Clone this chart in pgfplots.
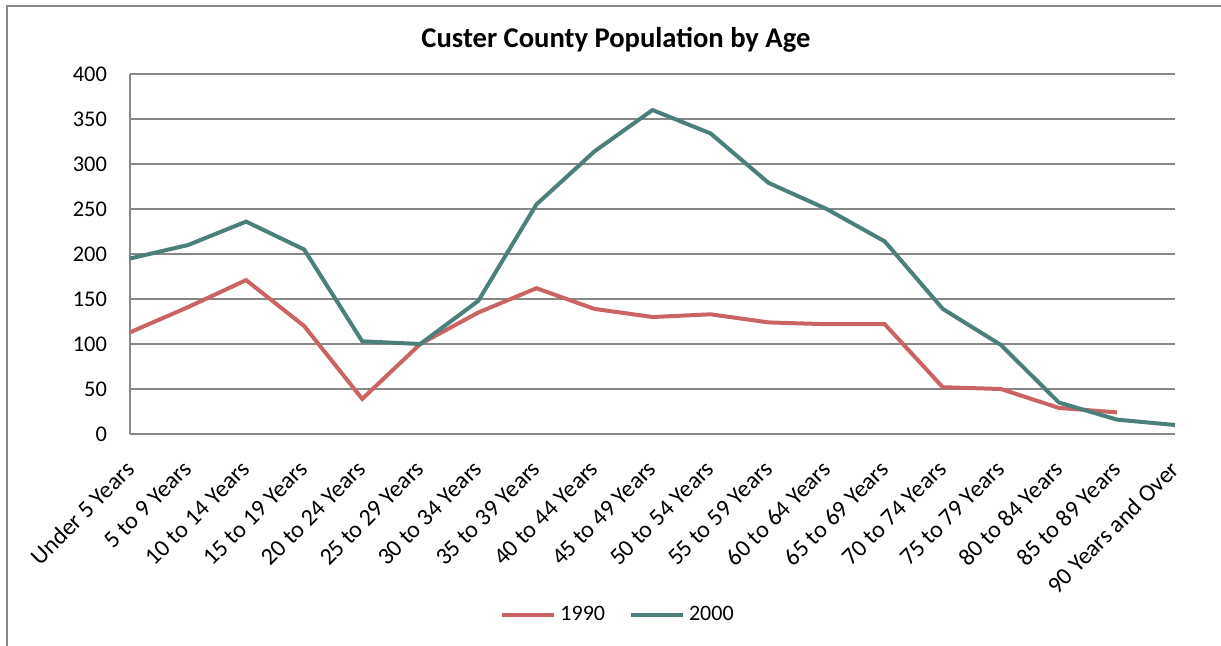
\documentclass[border=0pt]{standalone}
\usepackage{fontspec}
\setmainfont{Carlito}
\usepackage{pgfplots}
\pgfplotsset{compat=1.18}
\definecolor{c1990}{HTML}{C96463}
\definecolor{c2000}{HTML}{4B7F7C}
\definecolor{cgrid}{HTML}{878787}

\begin{document}
\begin{tikzpicture}
\useasboundingbox (-65pt,-105.5pt) rectangle (545.5pt,217pt);
% chart area frame (only left and top edges fall inside the picture)
\draw[cgrid,line width=1pt] (-61.25pt,-110pt) -- (-61.25pt,214.25pt) -- (550pt,214.25pt);
\begin{axis}[
  scale only axis, width=522.5pt, height=180pt,
  xmin=0, xmax=18, ymin=0, ymax=400,
  xtick={0,...,18},
  xticklabels={Under 5 Years,5 to 9 Years,10 to 14 Years,15 to 19 Years,20 to 24 Years,
    25 to 29 Years,30 to 34 Years,35 to 39 Years,40 to 44 Years,45 to 49 Years,
    50 to 54 Years,55 to 59 Years,60 to 64 Years,65 to 69 Years,70 to 74 Years,
    75 to 79 Years,80 to 84 Years,85 to 89 Years,90 Years and Over},
  ytick={0,50,...,400},
  /pgf/number format/assume math mode=true,
  ymajorgrids, grid style={cgrid,line width=0.75pt},
  axis lines*=left, axis line style={cgrid,line width=0.75pt},
  tick style={draw=none},
  % shifts are in the rotated frame: page shift of (-3pt,-12.5pt)
  xticklabel style={font=\fontsize{12pt}{14pt}\selectfont,
    rotate=45,anchor=north east,inner sep=0pt,xshift=-10.96pt,yshift=-6.72pt},
  yticklabel style={font=\fontsize{11.2pt}{13pt}\selectfont,anchor=east,xshift=-8pt},
  title={\textbf{Custer County Population by Age}},
  title style={at={(0.465,1.061)},anchor=center,yshift=0pt,
    font=\fontsize{14.3pt}{16pt}\selectfont},
  legend columns=2,
  legend style={at={(0.468,-0.503)},anchor=center,draw=none,fill=none,
    font=\fontsize{11pt}{13pt}\selectfont,
    /tikz/every even column/.append style={column sep=10pt}},
  legend image code/.code={\draw[#1] (0pt,0pt) -- (26pt,0pt);},
]
\addplot[c1990,line width=2pt] coordinates {
  (0,113) (1,141) (2,171) (3,120) (4,39) (5,100) (6,135) (7,162) (8,139) (9,130)
  (10,133) (11,124) (12,122) (13,122) (14,52) (15,50) (16,29) (17,24)};
\addplot[c2000,line width=2pt] coordinates {
  (0,195) (1,210) (2,236) (3,205) (4,103) (5,100) (6,148) (7,255) (8,314) (9,360)
  (10,334) (11,279) (12,250) (13,214) (14,139) (15,99) (16,35) (17,16) (18,10)};
\legend{1990,2000}
\end{axis}
\end{tikzpicture}
\end{document}
